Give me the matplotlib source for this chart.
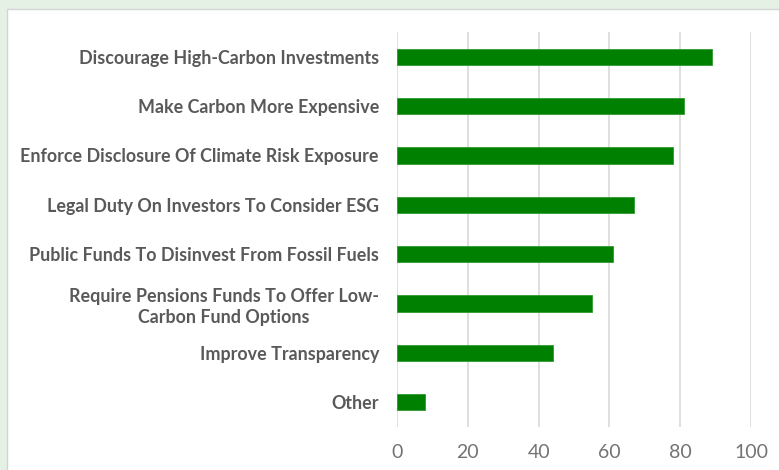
import matplotlib.pyplot as plt
from matplotlib.patches import Rectangle

categories = [
    'Discourage High-Carbon Investments',
    'Make Carbon More Expensive',
    'Enforce Disclosure Of Climate Risk Exposure',
    'Legal Duty On Investors To Consider ESG',
    'Public Funds To Disinvest From Fossil Fuels',
    'Require Pensions Funds To Offer Low-\nCarbon Fund Options',
    'Improve Transparency',
    'Other',
]
values = [89, 81, 78, 67, 61, 55, 44, 8]
x_ticks = [0, 20, 40, 60, 80, 100]

W, H = 779, 470
fig = plt.figure(figsize=(W / 100, H / 100), dpi=100)
fig.patch.set_facecolor('#e6f1e6')

# white chart area with thin grey border
fig.patches.append(Rectangle((7 / W, -0.1), 1.0, 1 - 9 / H + 0.1, transform=fig.transFigure,
                             facecolor='white', edgecolor='#d4d4d4', linewidth=1.0, zorder=-10))

ax = fig.add_axes([397 / W, 1 - 427 / H, (751 - 397) / W, (427 - 32) / H])
ax.set_facecolor('none')

pos = list(range(len(categories)))
ax.barh(pos, values, height=0.33, color='#008000', edgecolor='#2e9a2e', linewidth=0.6, zorder=3)

ax.set_ylim(len(categories) - 0.5, -0.5)
ax.set_xlim(0, 100)
ax.set_xticks(x_ticks)
ax.set_yticks(pos)
ax.set_yticklabels(categories, fontfamily='Lato', fontweight='bold', fontsize=12.9,
                   color='#595959', multialignment='center', linespacing=1.25)
ax.tick_params(axis='y', length=0, pad=13)
ax.tick_params(axis='x', length=0, pad=12, labelsize=14, labelcolor='#737373')
for lab in ax.get_xticklabels():
    lab.set_fontfamily('Lato')

ax.grid(axis='x', color='#d9d9d9', linewidth=1.2, zorder=0)
for s in ax.spines.values():
    s.set_visible(False)

fig.savefig('out.png', dpi=100, facecolor=fig.get_facecolor())
